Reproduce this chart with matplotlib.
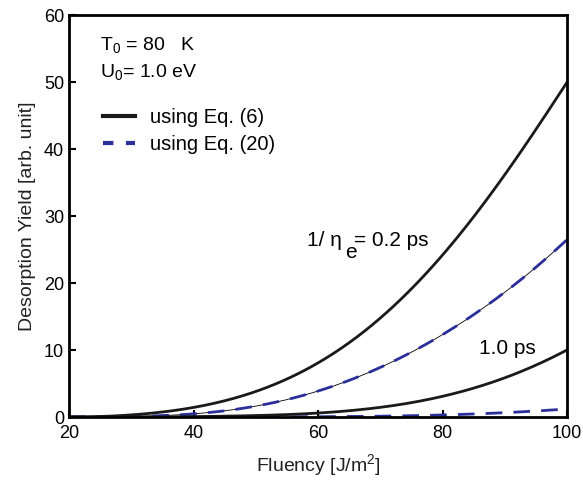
import matplotlib
matplotlib.use('Agg')
import matplotlib.pyplot as plt
import numpy as np

# fluency grid and read-off yields
fluency = [20, 30, 40, 50, 60, 70, 80, 90, 100]
eq6_02ps = [0.0, 0.3, 1.4, 3.9, 8.1, 14.5, 24.5, 36.0, 50.0]
eq20_02ps = [0.0, 0.05, 0.5, 1.7, 3.8, 7.3, 12.5, 18.5, 26.5]
eq6_10ps = [0.0, 0.0, 0.05, 0.2, 0.6, 1.5, 3.0, 5.9, 10.0]
eq20_10ps = [0.0, 0.0, 0.0, 0.02, 0.05, 0.12, 0.3, 0.65, 1.2]

plt.rcParams['font.family'] = ['Liberation Sans', 'DejaVu Sans']
plt.rcParams['mathtext.fontset'] = 'custom'
plt.rcParams['mathtext.rm'] = 'Liberation Sans'
plt.rcParams['mathtext.it'] = 'Liberation Sans'

fig = plt.figure(figsize=(5.83, 4.84), dpi=100)
ax = fig.add_axes([0.1184, 0.1384, 0.8542, 0.8306])

def smooth(x, y):
    # smooth curve through the read points
    xs = np.linspace(min(x), max(x), 200)
    c = np.polyfit(x, y, 5)
    return xs, np.clip(np.polyval(c, xs), 0, None)

blue = '#2b2f9a'
x, y = smooth(fluency, eq20_02ps)
ax.plot(x, y, color='black', lw=0.6)
ax.plot(x, y, color=blue, lw=2, dashes=(6, 4))
x, y = smooth(fluency, eq20_10ps)
ax.plot(x, y, color=blue, lw=2, dashes=(6, 4))
x, y = smooth(fluency, eq6_02ps)
ax.plot(x, y, color='#1a1a1a', lw=2)
x, y = smooth(fluency, eq6_10ps)
ax.plot(x, y, color='#1a1a1a', lw=2)

ax.set_xlim(20, 100)
ax.set_ylim(0, 60)
ax.set_xticks([20, 40, 60, 80, 100])
ax.set_yticks([0, 10, 20, 30, 40, 50, 60])
ax.tick_params(direction='in', labelsize=13, width=1.5, length=5)
ax.tick_params(axis='x', pad=6)
for s in ax.spines.values():
    s.set_linewidth(2)

ax.set_xlabel('Fluency [J/m$^2$]', fontsize=14, color='#222222', labelpad=7)
ax.set_ylabel('Desorption Yield [arb. unit]', fontsize=14, color='#222222', labelpad=6)

ax.text(25.0, 55.5, 'T$_0$ = 80   K', fontsize=14, va='center')
ax.text(25.0, 51.5, 'U$_0$= 1.0 eV', fontsize=14, va='center')

leg_handles = [plt.Line2D([], [], color='#1a1a1a', lw=3),
               plt.Line2D([], [], color=blue, lw=3, dashes=(2.5, 3))]
ax.legend(leg_handles, ['using Eq. (6)', 'using Eq. (20)'], loc='center left',
          bbox_to_anchor=(0.068, 0.711), frameon=False, fontsize=14.5,
          handlelength=1.6, handletextpad=0.75, labelspacing=0.42,
          borderpad=0, borderaxespad=0)

# "1/ η_e= 0.2 ps" with a large, lowered subscript
ax.text(58.3, 26.4, '1/ η', fontsize=15, va='center')
ax.text(64.3, 24.6, 'e', fontsize=15, va='center')
ax.text(65.8, 26.4, '= 0.2 ps', fontsize=15, va='center')
ax.text(85.8, 10.3, '1.0 ps', fontsize=15, va='center')

fig.savefig('out.png', dpi=100)
